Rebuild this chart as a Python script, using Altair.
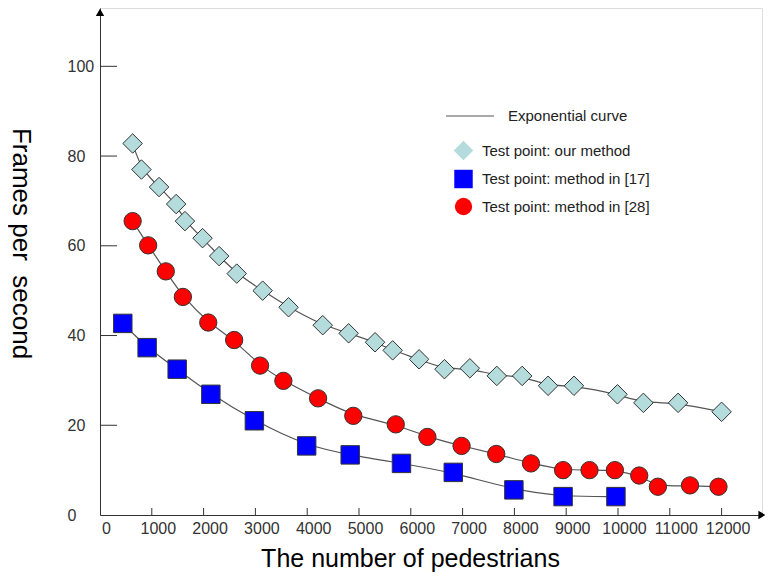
import altair as alt
import pandas as pd

# ---- data ----
ours_x = [630, 800, 1140, 1470, 1640, 1980, 2300, 2640, 3140, 3640, 4300, 4800, 5310,
          5650, 6160, 6650, 7140, 7660, 8150, 8650, 9150, 9990, 10490, 11160, 12000]
ours_y = [82.8, 77.0, 73.1, 69.3, 65.5, 61.7, 57.7, 53.8, 50.0, 46.3, 42.3, 40.5, 38.5,
          36.7, 34.7, 32.5, 32.7, 31.0, 31.0, 28.8, 28.8, 26.9, 25.0, 25.0, 23.0]

ref17_x = [440, 910, 1490, 2140, 2980, 3990, 4830, 5820, 6820, 7990, 8940, 9960]
ref17_y = [42.7, 37.3, 32.5, 26.9, 21.0, 15.4, 13.4, 11.5, 9.5, 5.6, 4.1, 4.1]

ref28_x = [630, 930, 1270, 1600, 2090, 2590, 3090, 3540, 4210, 4890, 5710, 6320, 6980,
           7650, 8320, 8940, 9450, 9940, 10410, 10770, 11390, 11940]
ref28_y = [65.5, 60.1, 54.3, 48.6, 42.9, 39.0, 33.3, 29.9, 26.0, 22.1, 20.2, 17.4, 15.4,
           13.6, 11.5, 10.0, 10.0, 10.0, 8.8, 6.3, 6.6, 6.3]

series_labels = ["Test point: our method", "Test point: method in [17]", "Test point: method in [28]"]
series_shapes = ["diamond", "square", "circle"]
series_colors = ["#b5dcdc", "#0000ff", "#ff0000"]
series_sizes = [380, 300, 330]
curve_label = "Exponential curve"

x_ticks = list(range(1000, 12001, 1000))
x_labels = list(range(0, 12001, 1000))
y_ticks = [20, 40, 60, 80, 100]
y_labels = [0, 20, 40, 60, 80, 100]
x_domain = [0, 12780]
y_domain = [0, 113]
y_arrow = [112.0]
x_arrow = [12780]

# ---- tables ----
rows = []
for lab, xs, ys in zip(series_labels, [ours_x, ref17_x, ref28_x], [ours_y, ref17_y, ref28_y]):
    for xv, yv in zip(xs, ys):
        rows.append({"series": lab, "x": xv, "y": yv, "curve": curve_label})
pts = pd.DataFrame(rows)

W, H = 662, 507
FONT = "Liberation Sans"

x_axis = alt.Axis(values=x_labels, format="d", tickSize=0, labelPadding=5, labelFontSize=16,
                  labelColor="#333", labelOffset=6, labelFlush=False, domainColor="#333", domainWidth=1,
                  grid=False, title="The number of pedestrians", titleFontSize=25, titleFontWeight="normal",
                  titleColor="#000", titleX=310, titleY=43, titleBaseline="middle", titleAlign="center")
y_axis = alt.Axis(values=y_labels, tickSize=0, labelAlign="left", labelPadding=33, labelBaseline="middle",
                  labelFontSize=16, labelColor="#333", domainColor="#333", domainWidth=1, grid=False,
                  title="Frames per\u00a0 second", titleFontSize=26, titleFontWeight="normal",
                  titleColor="#000", titleAngle=90, titleX=-80, titleY=235, titleBaseline="middle",
                  titleAlign="center")

X = alt.X("x:Q", scale=alt.Scale(domain=x_domain, nice=False, zero=False), axis=x_axis)
Y = alt.Y("y:Q", scale=alt.Scale(domain=y_domain, nice=False, zero=False), axis=y_axis)

pt_legend = alt.Legend(orient="none", legendX=353, legendY=132, title=None, padding=0,
                       labelFontSize=15, labelColor="#222", labelFont=FONT, labelOffset=8,
                       labelLimit=400, rowPadding=4, symbolStrokeColor="#333", symbolStrokeWidth=1,
                       symbolOpacity=1)

lines = alt.Chart(pts).mark_line(interpolate="basis", strokeWidth=1.2).encode(
    x=X, y=Y, detail="series:N",
    stroke=alt.Stroke("curve:N", scale=alt.Scale(domain=[curve_label], range=["#555555"]),
                      legend=alt.Legend(orient="none", legendX=345, legendY=83, title=None, padding=0,
                                        symbolType="stroke", symbolSize=2304, symbolStrokeWidth=1.2,
                                        labelFontSize=15, labelColor="#222", labelFont=FONT,
                                        labelLimit=400, labelOffset=13)),
)

points = alt.Chart(pts).mark_point(filled=True, stroke="#333", strokeWidth=1, opacity=1).encode(
    x=X, y=Y,
    shape=alt.Shape("series:N", scale=alt.Scale(domain=series_labels, range=series_shapes), legend=pt_legend),
    fill=alt.Fill("series:N", scale=alt.Scale(domain=series_labels, range=series_colors), legend=pt_legend),
    size=alt.Size("series:N", scale=alt.Scale(domain=series_labels, range=series_sizes), legend=pt_legend),
)

ytick_df = pd.DataFrame({"y": y_ticks})
xtick_df = pd.DataFrame({"x": x_ticks})
yticks = alt.Chart(ytick_df).mark_rule(color="#333", strokeWidth=1).encode(
    y=Y, x=alt.value(0), x2=alt.value(17))
xticks = alt.Chart(xtick_df).mark_rule(color="#333", strokeWidth=1).encode(
    x=X, y=alt.value(H), y2=alt.value(H - 7))

arrow_up = alt.Chart(pd.DataFrame({"x": [0], "y": y_arrow})).mark_point(
    shape="triangle-up", filled=True, color="#000", opacity=1, size=70).encode(x=X, y=Y)
arrow_right = alt.Chart(pd.DataFrame({"x": x_arrow, "y": [0]})).mark_point(
    shape="triangle-right", filled=True, color="#000", opacity=1, size=70).encode(x=X, y=Y)

chart = alt.layer(lines, points, yticks, xticks, arrow_up, arrow_right).properties(
    width=W, height=H,
    padding={"left": 92, "top": 0, "right": 3, "bottom": 60},
    autosize=alt.AutoSizeParams(type="none"),
).configure_view(stroke=None).configure(font=FONT)

chart.save("out.html", embed_options={"renderer": "svg", "actions": False})
